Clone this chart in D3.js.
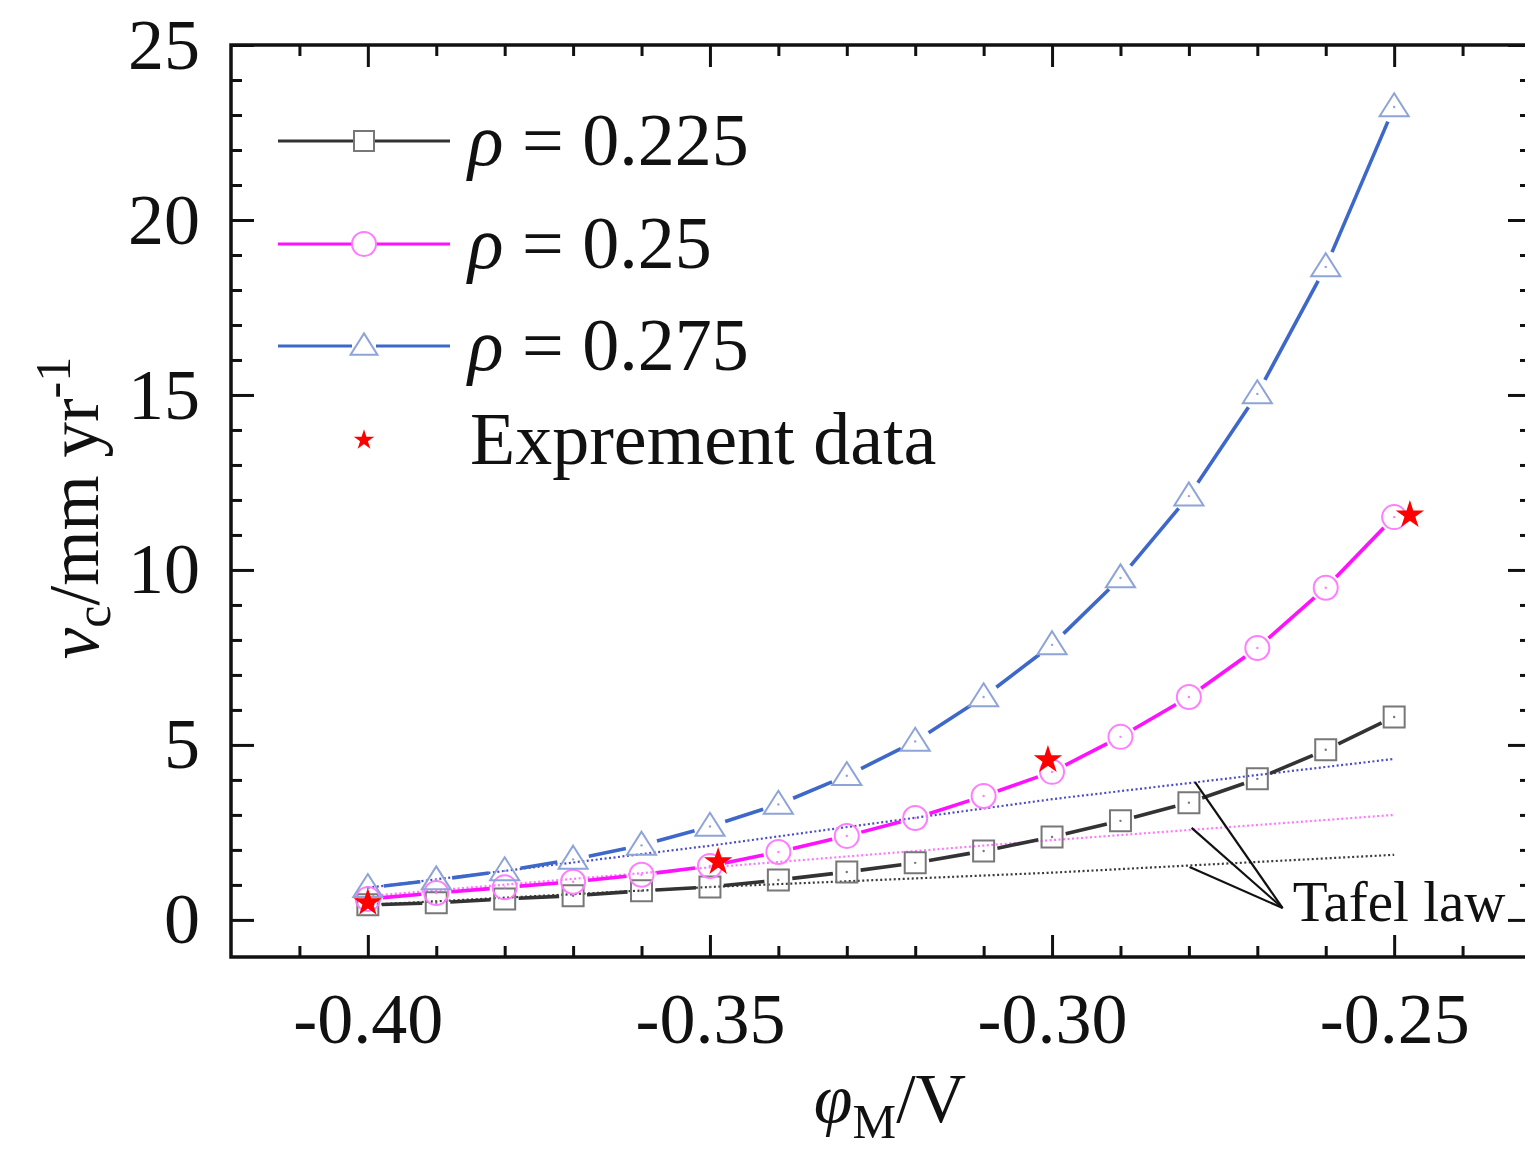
<!DOCTYPE html>
<html>
<head>
<meta charset="utf-8">
<script src="https://cdn.jsdelivr.net/npm/d3@7"></script>
<style>
  html, body { margin: 0; padding: 0; background: #fff; }
  svg { display: block; }
  text { font-family: "Liberation Serif", "Times New Roman", serif; fill: #111; }
</style>
</head>
<body>
<div id="chart"></div>
<script>
// ---------------- data ----------------
const potentials = [-0.40, -0.39, -0.38, -0.37, -0.36, -0.35, -0.34, -0.33, -0.32, -0.31, -0.30, -0.29, -0.28, -0.27, -0.26, -0.25];
const rho225 = [0.43, 0.49, 0.60, 0.69, 0.83, 0.94, 1.14, 1.37, 1.63, 1.97, 2.37, 2.83, 3.35, 4.03, 4.86, 5.80];
const rho25  = [0.60, 0.77, 0.93, 1.09, 1.29, 1.54, 1.94, 2.40, 2.91, 3.54, 4.23, 5.23, 6.37, 7.77, 9.49, 11.51];
const rho275 = [0.92, 1.14, 1.40, 1.73, 2.13, 2.67, 3.30, 4.12, 5.10, 6.37, 7.86, 9.77, 12.11, 15.03, 18.66, 23.23];

const expX = [-0.40, -0.3488, -0.3006, -0.2477];
const expY = [0.49, 1.66, 4.57, 11.57];

const tafelX   = [-0.40, -0.35, -0.30, -0.25];
const tafel225 = [0.43, 0.94, 1.35, 1.86];
const tafel25  = [0.68, 1.50, 2.28, 3.00];
const tafel275 = [0.92, 2.12, 3.45, 4.60];

const seriesLabels = ["0.225", "0.25", "0.275"];
const expLabel = "Exprement data";
const tafelLabel = "Tafel law";
const tafelNoteFrom = [-0.2663, 0.34];
const tafelNoteTo = [[-0.2791, 3.94], [-0.2796, 2.63], [-0.2799, 1.51]];

const xMajorTicks = [-0.40, -0.35, -0.30, -0.25];
const xMinorTicks = [-0.41, -0.39, -0.38, -0.37, -0.36, -0.34, -0.33, -0.32, -0.31, -0.29, -0.28, -0.27, -0.26, -0.24];
const yMajorTicks = [0, 5, 10, 15, 20, 25];
const yMinorTicks = [1, 2, 3, 4, 6, 7, 8, 9, 11, 12, 13, 14, 16, 17, 18, 19, 21, 22, 23, 24];

// ---------------- setup ----------------
const W = 1525, H = 1152;
const svg = d3.select("#chart").append("svg").attr("width", W).attr("height", H);

const x = d3.scaleLinear().domain([-0.42, -0.23]).range([231, 1531]);
const y = d3.scaleLinear().domain([-1.06, 25]).range([957, 45]);
const [xL, xR] = x.range();
const [yB, yT] = y.range();

const styles = [
  { vals: rho225, tafel: tafel225, line: "#333333", mark: "#777777", dot: "#3a3a3a", shape: "square", gap: 14 },
  { vals: rho25,  tafel: tafel25,  line: "#ff10ff", mark: "#ff7dff", dot: "#ff77ff", shape: "circle", gap: 15 },
  { vals: rho275, tafel: tafel275, line: "#3d68c9", mark: "#8ea4d8", dot: "#4c4cc8", shape: "triangle", gap: 16 }
];

function markerPath(shape, s) {
  if (shape === "square") return `M${-s},${-s}H${s}V${s}H${-s}Z`;
  if (shape === "circle") return `M${s},0A${s},${s} 0 1,1 ${-s},0A${s},${s} 0 1,1 ${s},0Z`;
  const h = s * 1.0;
  return `M0,${-h * 1.05}L${s * 1.12},${h * 0.72}L${-s * 1.12},${h * 0.72}Z`;
}
const markerSize = { square: 10.5, circle: 12, triangle: 13 };

// ---------------- axes (inward ticks) ----------------
function styleAxis(g) {
  g.select(".domain").remove();
  g.selectAll("line").attr("stroke", "#111").attr("stroke-width", 3);
}
const fmtX = d => d.toFixed(2);

svg.append("g").attr("transform", `translate(0,${yB})`)
  .call(d3.axisBottom(x).tickValues(xMajorTicks).tickSizeInner(-22).tickSizeOuter(0).tickPadding(35).tickFormat(fmtX))
  .call(styleAxis)
  .call(g => g.selectAll("text").attr("font-size", 72).attr("font-family", "Liberation Serif").attr("fill", "#111"));
svg.append("g").attr("transform", `translate(0,${yB})`)
  .call(d3.axisBottom(x).tickValues(xMinorTicks).tickSizeInner(-11).tickSizeOuter(0).tickFormat(""))
  .call(styleAxis);
svg.append("g").attr("transform", `translate(0,${yT})`)
  .call(d3.axisTop(x).tickValues(xMajorTicks).tickSizeInner(-22).tickSizeOuter(0).tickFormat(""))
  .call(styleAxis);
svg.append("g").attr("transform", `translate(0,${yT})`)
  .call(d3.axisTop(x).tickValues(xMinorTicks).tickSizeInner(-11).tickSizeOuter(0).tickFormat(""))
  .call(styleAxis);

svg.append("g").attr("transform", `translate(${xL},0)`)
  .call(d3.axisLeft(y).tickValues(yMajorTicks).tickSizeInner(-23).tickSizeOuter(0).tickPadding(31).tickFormat(d3.format("d")))
  .call(styleAxis)
  .call(g => g.selectAll("text").attr("font-size", 72).attr("font-family", "Liberation Serif").attr("fill", "#111"));
svg.append("g").attr("transform", `translate(${xL},0)`)
  .call(d3.axisLeft(y).tickValues(yMinorTicks).tickSizeInner(-11).tickSizeOuter(0).tickFormat(""))
  .call(styleAxis);
svg.append("g").attr("transform", `translate(${xR},0)`)
  .call(d3.axisRight(y).tickValues(yMajorTicks).tickSizeInner(-23).tickSizeOuter(0).tickFormat(""))
  .call(styleAxis);
svg.append("g").attr("transform", `translate(${xR},0)`)
  .call(d3.axisRight(y).tickValues(yMinorTicks).tickSizeInner(-11).tickSizeOuter(0).tickFormat(""))
  .call(styleAxis);

svg.append("rect").attr("x", xL).attr("y", yT).attr("width", xR - xL).attr("height", yB - yT)
  .attr("fill", "none").attr("stroke", "#111").attr("stroke-width", 3.5);

// ---------------- Tafel dotted lines ----------------
const plot = svg.append("g");
const lineGen = d3.line().x(d => x(d[0])).y(d => y(d[1]));
styles.forEach(s => {
  plot.append("path")
    .attr("d", lineGen(tafelX.map((v, i) => [v, s.tafel[i]])))
    .attr("fill", "none").attr("stroke", s.dot).attr("stroke-width", 2.2)
    .attr("stroke-dasharray", "2,2.5");
});

// ---------------- series: segments with gaps at markers ----------------
styles.forEach(s => {
  const pts = potentials.map((v, i) => [x(v), y(s.vals[i])]);
  const segs = [];
  for (let i = 0; i < pts.length - 1; i++) {
    const [x0, y0] = pts[i], [x1, y1] = pts[i + 1];
    const dx = x1 - x0, dy = y1 - y0, len = Math.hypot(dx, dy);
    if (len <= 2 * s.gap) continue;
    const ux = dx / len, uy = dy / len;
    segs.push([x0 + ux * s.gap, y0 + uy * s.gap, x1 - ux * s.gap, y1 - uy * s.gap]);
  }
  plot.append("g").selectAll("line").data(segs).join("line")
    .attr("x1", d => d[0]).attr("y1", d => d[1]).attr("x2", d => d[2]).attr("y2", d => d[3])
    .attr("stroke", s.line).attr("stroke-width", 3.6);
  const mg = plot.append("g");
  mg.selectAll("path").data(pts).join("path")
    .attr("transform", d => `translate(${d[0]},${d[1]})`)
    .attr("d", markerPath(s.shape, markerSize[s.shape]))
    .attr("fill", "none").attr("stroke", s.mark).attr("stroke-width", 2);
  mg.selectAll("circle").data(pts).join("circle")
    .attr("cx", d => d[0]).attr("cy", d => d[1]).attr("r", 1.2).attr("fill", s.mark);
});

// ---------------- experiment stars ----------------
const star = d3.symbol().type(d3.symbolStar).size(250);
plot.append("g").selectAll("path").data(expX.map((v, i) => [v, expY[i]])).join("path")
  .attr("transform", d => `translate(${x(d[0])},${y(d[1])})`)
  .attr("d", star).attr("fill", "#ff0000");

// ---------------- Tafel annotation ----------------
const ann = svg.append("g");
tafelNoteTo.forEach(t => {
  ann.append("line")
    .attr("x1", x(tafelNoteFrom[0])).attr("y1", y(tafelNoteFrom[1]))
    .attr("x2", x(t[0])).attr("y2", y(t[1]))
    .attr("stroke", "#111").attr("stroke-width", 2.2);
});
ann.append("text").attr("x", x(tafelNoteFrom[0]) + 10).attr("y", 921)
  .attr("font-size", 57).text(tafelLabel);

// ---------------- legend ----------------
const leg = svg.append("g");
const rowY = [141, 244, 346];
styles.forEach((s, i) => {
  const cy = rowY[i];
  const ms = { square: 10, circle: 12, triangle: 12 }[s.shape];
  leg.append("line").attr("x1", 278).attr("x2", 364 - ms).attr("y1", cy).attr("y2", cy)
    .attr("stroke", s.line).attr("stroke-width", 3);
  leg.append("line").attr("x1", 364 + ms).attr("x2", 450).attr("y1", cy).attr("y2", cy)
    .attr("stroke", s.line).attr("stroke-width", 3);
  leg.append("path").attr("transform", `translate(364,${cy})`)
    .attr("d", markerPath(s.shape, ms)).attr("fill", "none").attr("stroke", s.mark).attr("stroke-width", 2);
  const t = leg.append("text").attr("x", 468).attr("y", cy + 24).attr("font-size", 74);
  t.append("tspan").attr("font-style", "italic").text("ρ");
  t.append("tspan").text(" = " + seriesLabels[i]);
});
leg.append("path").attr("transform", "translate(364,440)")
  .attr("d", d3.symbol().type(d3.symbolStar).size(130)).attr("fill", "#ff0000");
leg.append("text").attr("x", 470).attr("y", 464).attr("font-size", 74).text(expLabel);

// ---------------- axis titles ----------------
const yt = svg.append("text").attr("transform", "translate(98,508) rotate(-90)")
  .attr("text-anchor", "middle").attr("font-size", 71);
yt.append("tspan").attr("font-style", "italic").text("v");
yt.append("tspan").attr("font-size", 50).attr("dy", 12).text("c");
yt.append("tspan").attr("dy", -12).text("/mm yr");
yt.append("tspan").attr("font-size", 50).attr("dy", -28).text("-1");

const xt = svg.append("text").attr("x", 890).attr("y", 1122)
  .attr("text-anchor", "middle").attr("font-size", 70);
xt.append("tspan").attr("font-style", "italic").text("φ");
xt.append("tspan").attr("font-size", 49).attr("dy", 16).text("M");
xt.append("tspan").attr("dy", -16).text("/V");
</script>
</body>
</html>
